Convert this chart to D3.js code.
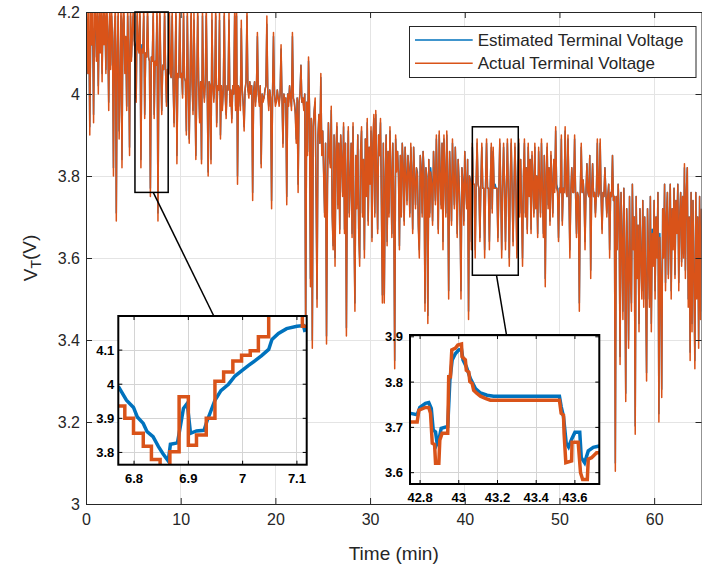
<!DOCTYPE html>
<meta charset="utf-8">
<head>
<title>Terminal Voltage Estimation</title>
<script src="https://cdn.jsdelivr.net/npm/d3@7"></script>
<style>
body { margin: 0; background: #fff; }
text { font-family: "Liberation Sans", Arial, sans-serif; fill: #262626; }
.grid line { stroke: #e4e4e4; stroke-width: 1px; shape-rendering: crispEdges; }
.inset .grid line { stroke: #d4d4d4; }
.inset text { font-weight: bold; fill: #000; font-size: 13px; }
</style>
</head>
<body>
<script>
// ---- data (voltages in V, sampled every 0.1 min from t = 0) ----
const sampleStep = 0.1;

const actualV = [
  4.18,4.21,4.05,4.22,3.90,4.21,4.12,4.22,3.93,4.20,
  4.22,4.08,4.21,4.00,4.22,4.10,4.21,4.03,4.22,4.12,
  4.21,4.05,4.22,4.15,3.96,4.22,4.06,4.21,4.13,3.80,
  4.15,4.22,3.69,4.10,4.21,3.89,4.02,4.22,3.82,4.18,
  4.22,4.05,4.14,3.96,4.21,4.10,3.85,4.22,4.08,4.15,
  4.22,4.12,4.11,3.98,4.22,4.11,4.10,4.22,3.82,4.11,
  4.10,4.22,3.94,4.10,4.09,4.22,4.09,4.08,3.75,4.09,
  4.08,4.22,3.94,4.08,4.07,4.22,3.69,4.07,4.22,4.06,
  3.95,4.07,4.06,4.22,4.06,3.97,4.06,4.05,4.22,4.05,
  4.04,4.21,4.03,3.92,4.05,4.22,3.83,4.05,4.04,4.21,
  4.04,4.05,3.99,4.22,4.04,4.03,3.90,4.21,4.03,3.88,
  4.04,4.22,4.03,3.95,4.20,4.03,3.84,4.03,4.22,4.02,
  3.93,4.03,3.83,4.21,4.02,3.98,4.03,4.22,4.02,3.80,
  4.03,4.02,3.83,4.20,4.02,3.98,4.03,4.22,3.92,4.02,
  4.01,4.20,3.89,4.02,3.96,4.01,4.21,4.00,3.94,4.02,
  4.01,4.20,3.97,4.01,3.93,4.02,4.00,4.21,3.96,4.22,
  3.78,4.02,4.01,3.96,4.18,4.01,3.97,3.91,4.01,4.03,
  4.21,4.01,3.99,4.03,4.00,4.02,3.74,4.00,4.03,3.97,
  4.01,4.15,4.00,3.97,4.02,3.82,4.00,3.98,3.99,4.01,
  4.02,4.19,4.00,3.96,4.01,3.99,3.72,4.00,4.15,4.00,
  3.97,3.98,4.01,3.99,3.97,4.00,4.12,3.99,3.87,4.00,
  3.98,3.99,3.73,4.00,3.97,4.02,3.99,3.96,4.15,3.99,
  3.98,3.95,3.88,3.99,3.76,3.98,4.00,4.07,3.98,3.99,
  3.96,4.00,3.38,3.98,3.85,4.09,3.97,3.53,3.94,3.38,
  3.92,3.96,3.99,3.75,3.48,3.90,3.95,3.88,4.05,3.85,
  3.91,3.80,3.70,3.88,3.39,3.77,3.93,3.85,3.82,3.97,
  3.70,3.62,3.90,3.58,3.86,3.93,3.72,3.88,3.66,3.90,
  3.84,3.75,3.93,3.66,3.88,3.41,3.80,3.92,3.70,3.78,
  3.88,3.65,3.93,3.68,3.47,3.85,3.72,3.90,3.66,3.58,
  3.86,3.92,3.70,3.84,3.60,3.89,3.75,3.94,3.68,3.87,
  3.78,3.92,3.64,3.88,3.95,3.70,3.96,3.82,3.66,3.90,
  3.85,3.94,3.72,3.49,3.88,3.49,3.78,3.90,3.63,3.86,
  3.70,3.92,3.80,3.65,3.88,3.74,3.33,3.90,3.81,3.86,
  3.80,3.62,3.85,3.70,3.88,3.82,3.68,3.87,3.80,3.73,
  3.85,3.81,3.70,3.88,3.80,3.66,3.87,3.79,3.72,3.82,
  3.80,3.67,3.60,3.85,3.81,3.70,3.86,3.80,3.47,3.82,
  3.79,3.44,3.84,3.70,3.81,3.78,3.68,3.86,3.79,3.73,
  3.90,3.78,3.66,3.91,3.80,3.72,3.88,3.62,3.90,3.80,
  3.70,3.91,3.79,3.50,3.86,3.78,3.68,3.89,3.79,3.72,
  3.87,3.78,3.65,3.84,3.78,3.70,3.50,3.82,3.78,3.68,
  3.86,3.77,3.72,3.84,3.45,3.80,3.78,3.62,3.88,3.78,
  3.78,3.60,3.78,3.89,3.78,3.77,3.64,3.78,3.88,3.77,
  3.77,3.60,3.78,3.89,3.77,3.77,3.62,3.78,3.88,3.71,
  3.87,3.77,3.77,3.77,3.77,3.64,3.77,3.89,3.77,3.60,
  3.77,3.88,3.77,3.62,3.77,3.89,3.77,3.58,3.78,3.89,
  3.77,3.63,3.77,3.88,3.77,3.60,3.78,3.89,3.70,3.84,
  3.72,3.58,3.80,3.89,3.70,3.82,3.66,3.88,3.75,3.84,
  3.66,3.86,3.78,3.70,3.88,3.72,3.80,3.65,3.87,3.78,
  3.70,3.89,3.76,3.65,3.85,3.53,3.80,3.88,3.72,3.82,
  3.68,3.86,3.78,3.70,3.84,3.76,3.92,3.77,3.76,3.64,
  3.77,3.76,3.90,3.68,3.77,3.76,3.92,3.76,3.75,3.90,
  3.76,3.60,3.76,3.82,3.76,3.76,3.90,3.76,3.65,3.76,
  3.75,3.47,3.76,3.88,3.76,3.79,3.75,3.62,3.76,3.83,
  3.76,3.75,3.85,3.55,3.76,3.83,3.75,3.76,3.70,3.76,
  3.89,3.75,3.76,3.89,3.75,3.66,3.76,3.75,3.82,3.76,
  3.70,3.75,3.78,3.60,3.76,3.75,3.85,3.74,3.75,3.08,
  3.75,3.62,3.78,3.70,3.34,3.76,3.65,3.45,3.77,3.60,
  3.25,3.72,3.60,3.38,3.75,3.55,3.47,3.78,3.62,3.70,
  3.17,3.75,3.55,3.68,3.42,3.72,3.60,3.50,3.74,3.48,
  3.70,3.55,3.30,3.72,3.60,3.48,3.75,3.42,3.66,3.58,
  3.74,3.50,3.70,3.60,3.76,3.20,3.65,3.55,3.26,3.72,
  3.60,3.78,3.52,3.70,3.76,3.55,3.68,3.78,3.50,3.72,
  3.62,3.77,3.55,3.74,3.66,3.78,3.52,3.70,3.76,3.58,
  3.75,3.60,3.83,3.55,3.76,3.82,3.48,3.70,3.35,3.76,
  3.42,3.74,3.55,3.33,3.76,3.50,3.70,3.38,3.75,3.45,
  3.72
];

const estimatedV = [
  4.11,4.13,4.05,4.15,3.92,4.15,4.12,4.16,3.95,4.16,
  4.19,4.09,4.19,4.02,4.19,4.11,4.19,4.05,4.19,4.13,
  4.19,4.06,4.19,4.15,3.98,4.19,4.07,4.19,4.13,3.82,
  4.15,4.19,3.71,4.10,4.19,3.91,4.03,4.19,3.84,4.17,
  4.19,4.06,4.14,3.97,4.19,4.11,3.87,4.19,4.09,4.15,
  4.19,4.13,4.12,3.99,4.19,4.12,4.11,4.19,3.84,4.12,
  4.11,4.19,3.95,4.10,4.09,4.19,4.09,4.08,3.77,4.09,
  4.08,4.19,3.95,4.08,4.07,4.19,3.71,4.07,4.19,4.06,
  3.96,4.07,4.06,4.19,4.06,3.98,4.06,4.05,4.19,4.05,
  4.04,4.19,4.03,3.93,4.05,4.19,3.85,4.05,4.04,4.19,
  4.04,4.05,4.00,4.19,4.04,4.03,3.91,4.19,4.03,3.89,
  4.04,4.19,4.03,3.96,4.18,4.03,3.85,4.03,4.19,4.02,
  3.94,4.03,3.84,4.19,4.02,3.99,4.03,4.19,4.02,3.81,
  4.03,4.02,3.84,4.18,4.02,3.99,4.03,4.19,3.93,4.02,
  4.01,4.18,3.90,4.02,3.97,4.01,4.19,4.00,3.95,4.02,
  4.01,4.18,3.98,4.01,3.94,4.02,4.00,4.19,3.97,4.19,
  3.80,4.02,4.01,3.97,4.16,4.01,3.98,3.92,4.01,4.03,
  4.19,4.01,4.00,4.03,4.00,4.02,3.76,4.01,4.03,3.98,
  4.01,4.14,4.00,3.98,4.02,3.83,4.00,3.99,3.99,4.01,
  4.02,4.17,4.00,3.97,4.01,3.99,3.74,4.00,4.14,4.00,
  3.98,3.98,4.01,3.99,3.98,4.00,4.11,3.99,3.88,4.00,
  3.98,3.99,3.75,4.00,3.98,4.02,3.99,3.97,4.14,3.99,
  3.98,3.96,3.89,3.99,3.78,3.98,4.00,4.07,3.98,3.99,
  3.97,4.00,3.40,3.98,3.86,4.08,3.97,3.55,3.94,3.40,
  3.92,3.96,3.98,3.76,3.50,3.90,3.95,3.88,4.04,3.86,
  3.91,3.81,3.71,3.88,3.41,3.78,3.93,3.85,3.83,3.96,
  3.71,3.63,3.90,3.60,3.86,3.92,3.73,3.88,3.67,3.90,
  3.84,3.76,3.92,3.67,3.88,3.43,3.80,3.91,3.71,3.79,
  3.88,3.66,3.92,3.69,3.49,3.85,3.73,3.90,3.67,3.60,
  3.86,3.91,3.71,3.84,3.62,3.89,3.76,3.93,3.69,3.87,
  3.79,3.91,3.65,3.88,3.94,3.71,3.95,3.82,3.67,3.90,
  3.85,3.93,3.73,3.51,3.88,3.51,3.79,3.90,3.64,3.86,
  3.71,3.91,3.81,3.66,3.88,3.75,3.35,3.89,3.82,3.86,
  3.81,3.63,3.85,3.71,3.88,3.82,3.69,3.87,3.81,3.74,
  3.85,3.82,3.71,3.87,3.81,3.67,3.87,3.80,3.73,3.82,
  3.81,3.68,3.62,3.85,3.82,3.71,3.86,3.81,3.49,3.82,
  3.80,3.46,3.84,3.71,3.82,3.79,3.69,3.86,3.80,3.74,
  3.89,3.79,3.67,3.90,3.81,3.73,3.88,3.64,3.89,3.81,
  3.71,3.90,3.80,3.52,3.86,3.79,3.69,3.88,3.80,3.73,
  3.87,3.79,3.66,3.84,3.79,3.71,3.52,3.82,3.79,3.69,
  3.86,3.78,3.73,3.84,3.47,3.80,3.79,3.64,3.87,3.78,
  3.78,3.62,3.78,3.88,3.78,3.77,3.65,3.78,3.87,3.77,
  3.77,3.62,3.78,3.88,3.77,3.77,3.64,3.78,3.87,3.72,
  3.86,3.77,3.78,3.77,3.77,3.65,3.77,3.88,3.77,3.62,
  3.77,3.87,3.78,3.64,3.77,3.88,3.77,3.60,3.78,3.88,
  3.77,3.64,3.77,3.87,3.78,3.62,3.78,3.88,3.71,3.84,
  3.73,3.60,3.80,3.88,3.71,3.82,3.67,3.87,3.76,3.84,
  3.67,3.85,3.79,3.71,3.87,3.73,3.80,3.66,3.86,3.79,
  3.71,3.88,3.77,3.66,3.85,3.55,3.80,3.87,3.73,3.82,
  3.69,3.85,3.79,3.71,3.84,3.77,3.91,3.78,3.77,3.65,
  3.77,3.76,3.89,3.69,3.77,3.76,3.91,3.77,3.75,3.89,
  3.76,3.62,3.76,3.82,3.77,3.76,3.89,3.76,3.66,3.76,
  3.75,3.49,3.76,3.87,3.76,3.79,3.75,3.64,3.76,3.83,
  3.76,3.75,3.85,3.57,3.77,3.83,3.75,3.76,3.71,3.76,
  3.88,3.75,3.76,3.88,3.75,3.67,3.76,3.75,3.82,3.76,
  3.71,3.75,3.78,3.62,3.76,3.75,3.85,3.74,3.75,3.10,
  3.75,3.63,3.78,3.71,3.36,3.76,3.66,3.47,3.77,3.61,
  3.27,3.72,3.61,3.40,3.75,3.56,3.49,3.78,3.63,3.70,
  3.19,3.75,3.56,3.68,3.44,3.72,3.61,3.52,3.74,3.50,
  3.70,3.56,3.32,3.72,3.61,3.50,3.75,3.44,3.67,3.59,
  3.74,3.52,3.70,3.61,3.76,3.22,3.66,3.56,3.28,3.72,
  3.61,3.78,3.54,3.70,3.76,3.56,3.68,3.78,3.52,3.72,
  3.63,3.77,3.56,3.74,3.67,3.78,3.54,3.70,3.76,3.59,
  3.75,3.61,3.82,3.57,3.76,3.82,3.50,3.70,3.37,3.76,
  3.44,3.74,3.56,3.35,3.76,3.52,3.70,3.40,3.75,3.47,
  3.72
];

const xTicks = [0, 10, 20, 30, 40, 50, 60];
const yTicks = [3, 3.2, 3.4, 3.6, 3.8, 4, 4.2];
const seriesNames = ["Estimated Terminal Voltage", "Actual Terminal Voltage"];
const seriesColors = ["#0072BD", "#D95319"];

// zoom windows marked on the main plot: [t0, t1, v0, v1]
const zoomWindow1 = [5.17, 8.68, 3.76, 4.2];
const zoomWindow2 = [40.8, 45.65, 3.558, 3.92];

// inset 1 (6.77 - 7.12 min), [t, V]; actual is held between samples
const inset1Actual = [
  [6.771,3.936],[6.783,3.900],[6.799,3.856],[6.817,3.818],[6.832,3.779],
  [6.848,3.755],[6.866,3.802],[6.883,3.963],[6.900,3.821],[6.915,3.851],
  [6.933,3.900],[6.949,4.009],[6.965,4.036],[6.982,4.068],[6.998,4.085],
  [7.014,4.098],[7.029,4.139],[7.048,4.240],[7.110,4.170],[7.118,4.170]
];
const inset1Estimated = [
  [6.771,3.994],[6.786,3.953],[6.799,3.932],[6.806,3.904],[6.817,3.885],
  [6.824,3.861],[6.835,3.846],[6.845,3.817],[6.853,3.797],[6.863,3.775],
  [6.867,3.824],[6.880,3.828],[6.891,3.929],[6.898,3.944],[6.904,3.856],
  [6.915,3.863],[6.929,3.865],[6.934,3.890],[6.949,3.953],[6.960,3.981],
  [6.974,4.000],[6.986,4.024],[6.998,4.039],[7.011,4.055],[7.023,4.069],
  [7.035,4.084],[7.048,4.102],[7.054,4.131],[7.066,4.149],[7.081,4.163],
  [7.100,4.170],[7.112,4.172],[7.115,4.153]
];
const inset1XTicks = [6.8, 6.9, 7, 7.1];
const inset1YTicks = [3.8, 3.9, 4, 4.1];

// inset 2 (42.75 - 43.73 min), [t, V]
const inset2Actual = [
  [42.751,3.712],[42.785,3.712],[42.794,3.738],[42.828,3.744],[42.845,3.744],
  [42.854,3.731],[42.863,3.665],[42.875,3.662],[42.880,3.621],[42.897,3.621],
  [42.902,3.672],[42.914,3.687],[42.943,3.687],[42.948,3.812],[42.957,3.812],
  [42.964,3.871],[42.983,3.875],[42.995,3.882],[43.014,3.884],[43.017,3.856],
  [43.034,3.849],[43.039,3.826],[43.052,3.822],[43.057,3.801],[43.069,3.797],
  [43.077,3.782],[43.094,3.775],[43.112,3.769],[43.137,3.764],[43.163,3.760],
  [43.520,3.760],[43.529,3.731],[43.541,3.727],[43.544,3.687],[43.553,3.622],
  [43.583,3.626],[43.585,3.667],[43.617,3.667],[43.629,3.600],[43.640,3.585],
  [43.664,3.585],[43.669,3.630],[43.686,3.633],[43.712,3.644],[43.726,3.644]
];
const inset2Estimated = [
  [42.751,3.731],[42.785,3.728],[42.799,3.744],[42.828,3.753],[42.845,3.755],
  [42.858,3.742],[42.868,3.694],[42.880,3.690],[42.888,3.665],[42.899,3.676],
  [42.909,3.698],[42.943,3.702],[42.954,3.804],[42.966,3.849],[42.983,3.863],
  [43.000,3.871],[43.014,3.872],[43.022,3.849],[43.039,3.834],[43.060,3.808],
  [43.086,3.786],[43.112,3.776],[43.146,3.771],[43.180,3.769],[43.520,3.769],
  [43.529,3.746],[43.541,3.724],[43.555,3.665],[43.567,3.657],[43.583,3.674],
  [43.600,3.689],[43.625,3.689],[43.633,3.633],[43.650,3.622],[43.669,3.648],
  [43.695,3.656],[43.726,3.659]
];
const inset2XTicks = [42.8, 43, 43.2, 43.4, 43.6];
const inset2YTicks = [3.6, 3.7, 3.8, 3.9];

// ---- layout ----
const width = 702, height = 569;
const plot = {left: 86, top: 12, right: 701.5, bottom: 504};
const axisColor = "#262626";

const svg = d3.select("body").append("svg")
    .attr("width", width)
    .attr("height", height);

svg.append("rect").attr("width", width).attr("height", height).attr("fill", "#fff");

const x = d3.scaleLinear().domain([0, 65]).range([plot.left, plot.right]);
const y = d3.scaleLinear().domain([3, 4.2]).range([plot.bottom, plot.top]);

svg.append("clipPath").attr("id", "mainClip")
  .append("rect")
    .attr("x", plot.left).attr("y", plot.top)
    .attr("width", plot.right - plot.left).attr("height", plot.bottom - plot.top);

// grid
const grid = svg.append("g").attr("class", "grid");
grid.selectAll(".gx").data(xTicks.slice(1)).join("line")
    .attr("x1", d => x(d)).attr("x2", d => x(d))
    .attr("y1", plot.top).attr("y2", plot.bottom);
grid.selectAll(".gy").data(yTicks.slice(1, -1)).join("line")
    .attr("class", "gy")
    .attr("x1", plot.left).attr("x2", plot.right)
    .attr("y1", d => y(d)).attr("y2", d => y(d));

// series
const line = d3.line()
    .x((d, i) => x(i * sampleStep))
    .y(d => y(d));

const series = svg.append("g").attr("clip-path", "url(#mainClip)");
[estimatedV, actualV].forEach((vals, k) => {
  series.append("path")
      .datum(vals)
      .attr("fill", "none")
      .attr("stroke", seriesColors[k])
      .attr("stroke-width", 1.5)
      .attr("stroke-linejoin", "round")
      .attr("d", line);
});

// axes (ticks inward on all four sides)
function styleAxis(g) {
  g.select(".domain").attr("stroke", axisColor);
  g.selectAll(".tick line").attr("stroke", axisColor);
  g.selectAll(".tick text").attr("fill", axisColor).style("font-size", "16px")
      .style("font-family", "'Liberation Sans', Arial, sans-serif");
}
svg.append("g")
    .attr("transform", `translate(0,${plot.bottom})`)
    .call(d3.axisBottom(x).tickValues(xTicks).tickSizeInner(-6).tickSizeOuter(0).tickPadding(10))
    .call(styleAxis);
svg.append("g")
    .attr("transform", `translate(0,${plot.top})`)
    .call(d3.axisTop(x).tickValues(xTicks).tickFormat("").tickSizeInner(-6).tickSizeOuter(0))
    .call(styleAxis);
svg.append("g")
    .attr("transform", `translate(${plot.left},0)`)
    .call(d3.axisLeft(y).tickValues(yTicks).tickFormat(d3.format("~g")).tickSizeInner(-6).tickSizeOuter(0).tickPadding(6))
    .call(styleAxis);
svg.append("g")
    .attr("transform", `translate(${plot.right},0)`)
    .call(d3.axisRight(y).tickValues(yTicks).tickFormat("").tickSizeInner(-6).tickSizeOuter(0))
    .call(styleAxis);

// axis labels
svg.append("text")
    .attr("x", (plot.left + plot.right) / 2)
    .attr("y", 560)
    .attr("text-anchor", "middle")
    .style("font-size", "19px")
    .text("Time (min)");

const yl = svg.append("text")
    .attr("transform", `translate(37,${(plot.top + plot.bottom) / 2}) rotate(-90)`)
    .attr("text-anchor", "middle")
    .style("font-size", "19px");
yl.append("tspan").text("V");
yl.append("tspan").attr("dy", "0.3em").style("font-size", "14px").text("T");
yl.append("tspan").attr("dy", "-0.3em").text("(V)");

// zoom windows and connectors
function windowRect(w) {
  svg.append("rect")
      .attr("x", x(w[0])).attr("y", y(w[3]))
      .attr("width", x(w[1]) - x(w[0])).attr("height", y(w[2]) - y(w[3]))
      .attr("fill", "none").attr("stroke", "#000").attr("stroke-width", 1.5);
}
windowRect(zoomWindow1);
windowRect(zoomWindow2);

svg.append("line")
    .attr("x1", x(7.1)).attr("y1", y(zoomWindow1[2]))
    .attr("x2", 213.8).attr("y2", 316)
    .attr("stroke", "#000").attr("stroke-width", 1.5);
svg.append("line")
    .attr("x1", x(43.35)).attr("y1", y(zoomWindow2[2]))
    .attr("x2", 506.5).attr("y2", 335)
    .attr("stroke", "#000").attr("stroke-width", 1.5);

// insets
function drawInset(cfg) {
  const g = svg.append("g").attr("class", "inset");
  const ix = d3.scaleLinear().domain(cfg.xDomain).range([cfg.box[0], cfg.box[2]]);
  const iy = d3.scaleLinear().domain(cfg.yDomain).range([cfg.box[3], cfg.box[1]]);
  const w = cfg.box[2] - cfg.box[0], h = cfg.box[3] - cfg.box[1];

  g.append("rect").attr("x", cfg.box[0]).attr("y", cfg.box[1])
      .attr("width", w).attr("height", h).attr("fill", "#fff");

  g.append("clipPath").attr("id", cfg.id)
    .append("rect").attr("x", cfg.box[0]).attr("y", cfg.box[1])
      .attr("width", w).attr("height", h);

  const gg = g.append("g").attr("class", "grid");
  gg.selectAll(".vx").data(cfg.xTicks).join("line")
      .attr("x1", d => ix(d)).attr("x2", d => ix(d))
      .attr("y1", cfg.box[1]).attr("y2", cfg.box[3]);
  gg.selectAll(".hy").data(cfg.yTicks).join("line")
      .attr("class", "hy")
      .attr("x1", cfg.box[0]).attr("x2", cfg.box[2])
      .attr("y1", d => iy(d)).attr("y2", d => iy(d));

  const lines = g.append("g").attr("clip-path", `url(#${cfg.id})`);
  [cfg.estimated, cfg.actual].forEach((pts, k) => {
    const il = d3.line().x(d => ix(d[0])).y(d => iy(d[1]))
        .curve(k === 1 && cfg.stepActual ? d3.curveStepAfter : d3.curveLinear);
    lines.append("path").datum(pts)
        .attr("fill", "none")
        .attr("stroke", seriesColors[k])
        .attr("stroke-width", 3.5)
        .attr("stroke-linejoin", "miter")
        .attr("d", il);
  });

  const tick = 4;
  cfg.xTicks.forEach(t => {
    g.append("line").attr("x1", ix(t)).attr("x2", ix(t))
        .attr("y1", cfg.box[3]).attr("y2", cfg.box[3] - tick).attr("stroke", "#000");
    g.append("line").attr("x1", ix(t)).attr("x2", ix(t))
        .attr("y1", cfg.box[1]).attr("y2", cfg.box[1] + tick).attr("stroke", "#000");
  });
  cfg.yTicks.forEach(v => {
    g.append("line").attr("x1", cfg.box[0]).attr("x2", cfg.box[0] + tick)
        .attr("y1", iy(v)).attr("y2", iy(v)).attr("stroke", "#000");
    g.append("line").attr("x1", cfg.box[2]).attr("x2", cfg.box[2] - tick)
        .attr("y1", iy(v)).attr("y2", iy(v)).attr("stroke", "#000");
  });

  g.append("rect").attr("x", cfg.box[0]).attr("y", cfg.box[1])
      .attr("width", w).attr("height", h)
      .attr("fill", "none").attr("stroke", "#000").attr("stroke-width", 2);

  g.selectAll(".xl").data(cfg.xTicks).join("text")
      .attr("x", d => ix(d)).attr("y", cfg.box[3] + 18)
      .attr("text-anchor", "middle")
      .text(d => String(d));
  g.selectAll(".yl").data(cfg.yTicks).join("text")
      .attr("class", "yl")
      .attr("x", cfg.box[0] - cfg.yPad).attr("y", d => iy(d))
      .attr("dy", "0.35em")
      .attr("text-anchor", "end")
      .text(d => String(d));
}

drawInset({
  id: "inset1", box: [118.3, 316, 306.7, 464.7],
  xDomain: [6.771, 7.118], yDomain: [3.764, 4.2],
  xTicks: inset1XTicks, yTicks: inset1YTicks, yPad: 4, stepActual: true,
  actual: inset1Actual, estimated: inset1Estimated
});
drawInset({
  id: "inset2", box: [410, 335, 599.3, 484],
  xDomain: [42.748, 43.726], yDomain: [3.575, 3.904],
  xTicks: inset2XTicks, yTicks: inset2YTicks, yPad: 7, stepActual: false,
  actual: inset2Actual, estimated: inset2Estimated
});

// legend
const legend = svg.append("g");
legend.append("rect")
    .attr("x", 409.5).attr("y", 26.5).attr("width", 286.5).attr("height", 51)
    .attr("fill", "#fff").attr("stroke", axisColor).attr("stroke-width", 1);
seriesNames.forEach((name, i) => {
  const ly = 40 + i * 23.3;
  legend.append("line")
      .attr("x1", 415).attr("x2", 472.7).attr("y1", ly).attr("y2", ly)
      .attr("stroke", seriesColors[i]).attr("stroke-width", 1.5);
  legend.append("text")
      .attr("x", 477.7).attr("y", ly).attr("dy", "0.35em")
      .style("font-size", "17px")
      .text(name);
});
</script>
</body>
</html>
